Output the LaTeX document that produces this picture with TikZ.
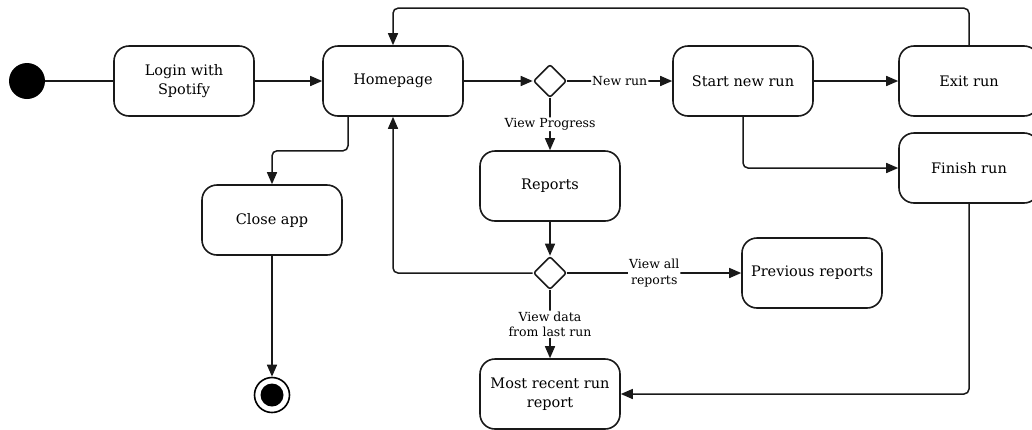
\documentclass[tikz,border=0pt]{standalone}
\usepackage{fontspec}
\setmainfont{DejaVu Serif}
\usetikzlibrary{shapes.geometric,arrows.meta,positioning}
\begin{document}
\begin{tikzpicture}[x=1pt,y=1pt,node distance=100pt,activity/.style={rectangle, rounded corners=15pt, draw=black!90, line width=1.6pt, fill=white, minimum width=140pt, minimum height=70pt, align=center, font=\fontsize{14.5}{18.5}\selectfont},choice/.style={diamond, draw=black!90, line width=1.6pt, fill=white, minimum size=33pt, inner sep=0pt, rounded corners=2pt},init_state/.style={circle, fill=black, minimum size=36pt, inner sep=0pt},final_state/.style={circle, draw=black, line width=1.6pt, minimum size=35pt, inner sep=0pt, path picture={\fill[black] (path picture bounding box.center) circle (11.5pt);}},flow/.style={-{Triangle[length=12pt,width=10pt]}, line width=1.5pt, draw=black!90, rounded corners=5pt},guard/.style={fill=white, inner sep=1pt, align=center, font=\fontsize{12.5}{15.5}\selectfont},]
                    \useasboundingbox (0,0) rectangle (1032,-429);
                    \node[init_state] (init) at (27,-81) {};
                    \node[activity, right of=init, xshift=57pt] (login) {Login with\\Spotify};
                    \node[activity, right of=login, xshift=109pt] (home) {Homepage};
                    \node[choice, right of=home, xshift=57pt] (dec1) {};
                    \node[activity, right of=dec1, xshift=93pt] (start) {Start new run};
                    \node[activity, right of=start, xshift=126pt] (exit) {Exit run};
                    \node[activity, below of=exit, yshift=13pt] (finish) {Finish run};
                    \node[activity, below of=dec1, yshift=-5pt] (reports) {Reports};
                    \node[choice, below of=reports, yshift=13pt] (dec2) {};
                    \node[activity, below of=dec2, yshift=-21pt] (recent) {Most recent run\\report};
                    \node[activity, right of=dec2, xshift=162pt] (prev) {Previous reports};
                    \node[activity, below of=home, xshift=-121pt, yshift=-39pt] (close) {Close app};
                    \node[final_state, below of=close, yshift=-75pt] (stop) {};
                    \draw[line width=1.5pt, black!90] (init) -- (login);
                    \draw[flow] (login) -- (home);
                    \draw[flow] (home) -- (dec1);
                    \draw[flow] (dec1) -- node[guard] {New run} (start);
                    \draw[flow] (start) -- (exit);
                    \draw[flow] (exit.north) -- ++(0,37) -| (home.north);
                    \draw[flow] (start.south) |- (finish.west);
                    \draw[flow] ([xshift=-45pt]home.south) -- ++(0,-34) -| (close.north);
                    \draw[flow] (close) -- (stop);
                    \draw[flow] (dec1) -- node[guard] {View Progress} (reports);
                    \draw[flow] (reports) -- (dec2);
                    \draw[flow] (dec2.west) -| (home.south);
                    \draw[flow] (dec2) -- node[guard] {View all\\reports} (prev);
                    \draw[flow] (dec2) -- node[guard] {View data\\from last run} (recent);
                    \draw[flow] (finish.south) |- (recent.east);
                \end{tikzpicture}
\end{document}
